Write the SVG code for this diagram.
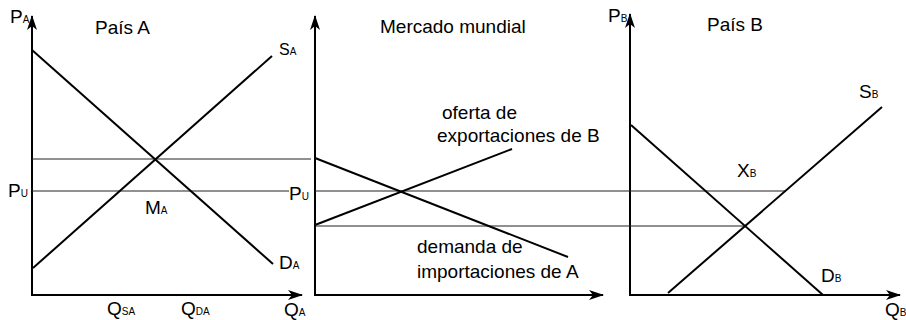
<svg xmlns="http://www.w3.org/2000/svg" width="906" height="320" viewBox="0 0 906 320">
<style>
text{font-family:"Liberation Sans",Arial,sans-serif;font-size:19px;fill:#000}
.s{font-size:10px}
.ax{stroke:#000;stroke-width:2;fill:none}
.cv{stroke:#000;stroke-width:2;fill:none}
.h{stroke:#222;stroke-width:1.2;fill:none}
</style>
<defs>
<marker id="arr" markerUnits="userSpaceOnUse" markerWidth="16" markerHeight="10" refX="14" refY="5" orient="auto">
<path d="M0,0 L15,5 L0,10 L4,5 z" fill="#000"/>
</marker>
</defs>
<rect width="906" height="320" fill="#fff"/>
<g id="axes">
<line class="ax" x1="32" y1="296" x2="32" y2="16" marker-end="url(#arr)"/>
<line class="ax" x1="31" y1="295" x2="302" y2="295" marker-end="url(#arr)"/>
<line class="ax" x1="315" y1="296" x2="315" y2="16" marker-end="url(#arr)"/>
<line class="ax" x1="314" y1="295" x2="603" y2="295" marker-end="url(#arr)"/>
<line class="ax" x1="630" y1="296" x2="630" y2="14" marker-end="url(#arr)"/>
<line class="ax" x1="629" y1="295" x2="900" y2="295" marker-end="url(#arr)"/>
</g>
<g id="connectors">
<line class="h" x1="32" y1="159" x2="311" y2="159"/>
<line class="h" x1="32" y1="191" x2="289" y2="191"/>
<line class="h" x1="315" y1="191" x2="785" y2="191"/>
<line class="h" x1="315" y1="226" x2="745" y2="226"/>
</g>
<g id="pais-a">
<line class="cv" x1="32" y1="50" x2="273" y2="264"/>
<line class="cv" x1="33" y1="268" x2="272" y2="56"/>
<text x="10" y="23">P<tspan class="s">A</tspan></text>
<text x="95" y="34">País A</text>
<text x="279" y="55" style="font-size:16px">S<tspan class="s">A</tspan></text>
<text x="8" y="197">P<tspan class="s">U</tspan></text>
<text x="145" y="214">M<tspan class="s">A</tspan></text>
<text x="279" y="269">D<tspan class="s">A</tspan></text>
<text x="107" y="315">Q<tspan class="s">SA</tspan></text>
<text x="181" y="315">Q<tspan class="s">DA</tspan></text>
<text x="284" y="316">Q<tspan class="s">A</tspan></text>
</g>
<g id="mercado-mundial">
<line class="cv" x1="315" y1="158" x2="568" y2="257"/>
<line class="cv" x1="315" y1="225" x2="512" y2="149"/>
<text x="380" y="33">Mercado mundial</text>
<text x="289" y="200">P<tspan class="s">U</tspan></text>
<text x="442" y="119">oferta de</text>
<text x="437" y="142">exportaciones de B</text>
<text x="417" y="253">demanda de</text>
<text x="417" y="278">importaciones de A</text>
</g>
<g id="pais-b">
<line class="cv" x1="631" y1="125" x2="823" y2="295"/>
<line class="cv" x1="668" y1="293" x2="882" y2="107"/>
<text x="608" y="22">P<tspan class="s">B</tspan></text>
<text x="707" y="31">País B</text>
<text x="859" y="98">S<tspan class="s">B</tspan></text>
<text x="737" y="177">X<tspan class="s">B</tspan></text>
<text x="821" y="282">D<tspan class="s">B</tspan></text>
<text x="885" y="316">Q<tspan class="s">B</tspan></text>
</g>
</svg>
